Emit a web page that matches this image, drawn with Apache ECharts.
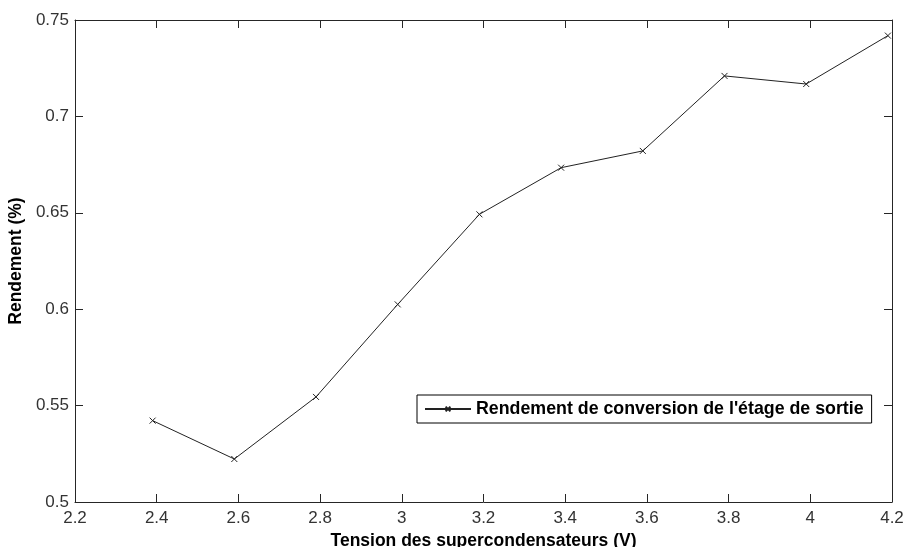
<!DOCTYPE html>
<html>
<head>
<meta charset="utf-8">
<script src="https://cdn.jsdelivr.net/npm/echarts@6/dist/echarts.min.js"></script>
<style>html,body{margin:0;padding:0;background:#fff;}#c{width:905px;height:547px;}</style>
</head>
<body>
<div id="c"></div>
<script>
const seriesName = "Rendement de conversion de l'étage de sortie";
const xTitle = "Tension des supercondensateurs (V)";
const yTitle = "Rendement (%)";
const voltage = [2.39, 2.59, 2.79, 2.99, 3.19, 3.39, 3.59, 3.79, 3.99, 4.19];
const efficiency = [0.5422, 0.5223, 0.5545, 0.6025, 0.6492, 0.6734, 0.6821, 0.7210, 0.7168, 0.7419];
const xRange = [2.2, 4.2, 0.2];
const yRange = [0.5, 0.75, 0.05];

const FONT = "'Liberation Sans', Arial, sans-serif";
const AX = '#262626';
const tickStyle = {show: true, inside: true, length: 8, lineStyle: {color: AX, width: 1}};
const chart = echarts.init(document.getElementById('c'), null, {renderer: 'canvas'});
const data = voltage.map((v, i) => [v, efficiency[i]]);
chart.setOption({
  animation: false,
  backgroundColor: '#fff',
  grid: {left: 75, right: 13, top: 20, bottom: 45, containLabel: false, outerBoundsMode: 'none'},
  legend: {
    left: 417, top: 395,
    padding: [5, 8, 5, 7],
    backgroundColor: '#fff',
    borderColor: '#000', borderWidth: 1, borderRadius: 0,
    itemWidth: 46, itemHeight: 6, itemGap: 0,
    textStyle: {fontFamily: FONT, fontSize: 17.8, fontWeight: 'bold', color: '#000'},
    data: [seriesName]
  },
  xAxis: [{
    type: 'value', min: xRange[0], max: xRange[1], interval: xRange[2],
    position: 'bottom',
    name: xTitle, nameLocation: 'middle', nameGap: 26,
    nameTextStyle: {fontFamily: FONT, fontSize: 17.5, fontWeight: 'bold', color: '#000'},
    axisLine: {show: true, onZero: false, lineStyle: {color: AX, width: 1}},
    axisTick: tickStyle,
    axisLabel: {fontFamily: FONT, fontSize: 17, color: '#333', margin: 8},
    splitLine: {show: false}
  }, {
    type: 'value', min: xRange[0], max: xRange[1], interval: xRange[2],
    position: 'top',
    axisLine: {show: true, onZero: false, lineStyle: {color: AX, width: 1}},
    axisTick: tickStyle,
    axisLabel: {show: false},
    splitLine: {show: false}
  }],
  yAxis: [{
    type: 'value', min: yRange[0], max: yRange[1], interval: yRange[2],
    position: 'left',
    name: yTitle, nameLocation: 'middle', nameGap: 46, nameRotate: 90,
    nameTextStyle: {fontFamily: FONT, fontSize: 17.5, fontWeight: 'bold', color: '#000'},
    axisLine: {show: true, onZero: false, lineStyle: {color: AX, width: 1}},
    axisTick: tickStyle,
    axisLabel: {fontFamily: FONT, fontSize: 17, color: '#333', margin: 6},
    splitLine: {show: false}
  }, {
    type: 'value', min: yRange[0], max: yRange[1], interval: yRange[2],
    position: 'right',
    axisLine: {show: true, onZero: false, lineStyle: {color: AX, width: 1}},
    axisTick: tickStyle,
    axisLabel: {show: false},
    splitLine: {show: false}
  }],
  series: [{
    name: seriesName,
    type: 'line',
    xAxisIndex: 0, yAxisIndex: 0,
    data: data,
    symbol: 'path://M0,0L10,10M10,0L0,10',
    symbolSize: 6,
    showAllSymbol: true,
    lineStyle: {color: '#222', width: 1},
    itemStyle: {color: 'none', borderColor: '#222', borderWidth: 1},
    emphasis: {disabled: true}
  }]
});
</script>
</body>
</html>
